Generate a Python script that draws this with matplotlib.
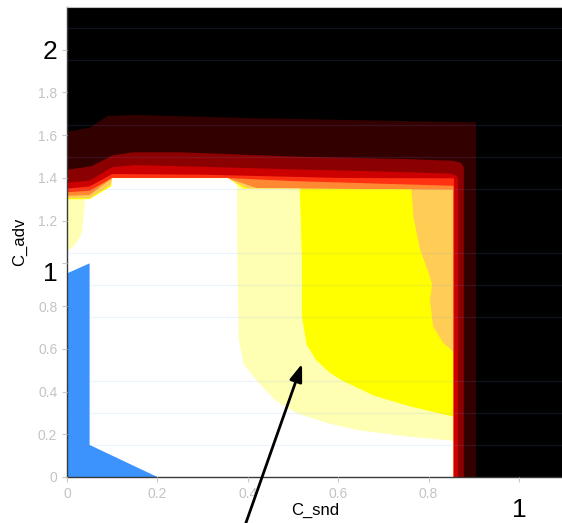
import matplotlib
matplotlib.use('Agg')
import matplotlib.pyplot as plt
import matplotlib.transforms as mtransforms
from matplotlib.ticker import FixedLocator, MultipleLocator

# ---------------- data ----------------
x_ticks = [0, 0.2, 0.4, 0.6, 0.8, 1.0]
x_tick_labels = ['0', '0.2', '0.4', '0.6', '0.8', '1']
y_ticks = [0, 0.2, 0.4, 0.6, 0.8, 1.0, 1.2, 1.4, 1.6, 1.8, 2.0]
y_tick_labels = ['0', '0.2', '0.4', '0.6', '0.8', '1', '1.2', '1.4', '1.6', '1.8', '2']
big_labels = ['1', '2']

# outer bands: top boundary (x, y) + right edge
band1_x = [0, 0.05, 0.09, 0.15, 0.4, 0.7, 0.905]
band1_y = [1.615, 1.635, 1.69, 1.695, 1.68, 1.668, 1.66]
band2_x = [0, 0.055, 0.1, 0.146, 0.25, 0.5, 0.75, 0.855, 0.872, 0.878]
band2_y = [1.438, 1.455, 1.505, 1.52, 1.52, 1.5, 1.488, 1.48, 1.47, 1.45]
band3_x = [0, 0.05, 0.1, 0.15, 0.3, 0.5, 0.7, 0.85, 0.862, 0.865]
band3_y = [1.378, 1.387, 1.45, 1.46, 1.452, 1.44, 1.43, 1.42, 1.41, 1.395]
band4_x = [0, 0.05, 0.1, 0.3, 0.6, 0.856]
band4_y = [1.35, 1.36, 1.418, 1.415, 1.40, 1.398]
band5_x = [0, 0.05, 0.1, 0.35, 0.5, 0.855]
band5_y = [1.333, 1.34, 1.40, 1.40, 1.385, 1.363]
band6_x = [0, 0.05, 0.1, 0.355, 0.42, 0.854]
band6_y = [1.316, 1.32, 1.399, 1.399, 1.352, 1.345]

# inner regions (closed outlines)
yellow_x = [0, 0, 0.05, 0.098, 0.1, 0.355, 0.40, 0.762, 0.766, 0.781, 0.80,
            0.808, 0.803, 0.81, 0.832, 0.854, 0.854]
yellow_y = [0, 1.305, 1.305, 1.37, 1.398, 1.398, 1.35, 1.347, 1.222, 1.066,
            0.956, 0.90, 0.831, 0.706, 0.628, 0.588, 0]
lightyellow_x = [0, 0, 0.05, 0.098, 0.1, 0.356, 0.39, 0.515, 0.52, 0.52, 0.53,
                 0.55, 0.58, 0.61, 0.68, 0.76, 0.854, 0.854]
lightyellow_y = [0, 1.30, 1.30, 1.36, 1.398, 1.398, 1.35, 1.35, 1.0, 0.75,
                 0.62, 0.55, 0.49, 0.45, 0.38, 0.33, 0.283, 0]
white_x = [0, 0, 0.015, 0.028, 0.033, 0.038, 0.04, 0.05, 0.098, 0.1, 0.356,
           0.376, 0.377, 0.38, 0.39, 0.42, 0.46, 0.507, 0.58, 0.642, 0.75,
           0.854, 0.854]
white_y = [0, 1.056, 1.08, 1.12, 1.145, 1.25, 1.30, 1.30, 1.36, 1.398, 1.398,
           1.37, 1.0, 0.65, 0.53, 0.45, 0.36, 0.30, 0.25, 0.22, 0.19, 0.17, 0]
blue_x = [0, 0, 0.05, 0.05, 0.2]
blue_y = [0, 0.953, 1.0, 0.15, 0]

arrow_tip = (0.52, 0.53)
arrow_tail = (0.365, -0.40)

band_colors = ['#330000', '#8b0000', '#cc0000', '#ff3311', '#ff8833', '#ffcc55']
band_right = [0.905, 0.878, 0.865, 0.856, 0.855, 0.854]

# ---------------- figure ----------------
fig = plt.figure(figsize=(5.62, 5.23), dpi=100)
ax = fig.add_axes([67 / 562, 46 / 523, 497.2 / 562, 470 / 523])
ax.set_facecolor('black')
ax.set_xlim(0, 1.1)
ax.set_ylim(0, 2.2)

bands = [(band1_x, band1_y), (band2_x, band2_y), (band3_x, band3_y),
         (band4_x, band4_y), (band5_x, band5_y), (band6_x, band6_y)]
for (bx, by), col, r in zip(bands, band_colors, band_right):
    xs = list(bx) + [r, 0]
    ys = list(by) + [0, 0]
    ax.fill(xs, ys, color=col, lw=0, zorder=1)

ax.fill(yellow_x, yellow_y, color='#ffff00', lw=0, zorder=1)
ax.fill(lightyellow_x, lightyellow_y, color='#ffffb4', lw=0, zorder=1)
ax.fill(white_x, white_y, color='#ffffff', lw=0, zorder=1)
ax.fill(blue_x, blue_y, color='#3b93fb', lw=0, zorder=1)

# faint horizontal grid
ax.yaxis.set_minor_locator(MultipleLocator(0.15))
ax.set_axisbelow(False)
ax.grid(which='minor', axis='y', color=(0.45, 0.6, 1.0), alpha=0.12, lw=0.9)
ax.tick_params(which='minor', length=0)

ax.xaxis.set_major_locator(FixedLocator(x_ticks))
ax.yaxis.set_major_locator(FixedLocator(y_ticks))
ax.set_xticklabels(x_tick_labels)
ax.set_yticklabels(y_tick_labels)
ax.tick_params(which='major', direction='out', length=3.5, width=0.8,
               color='#c8c8c8', labelcolor='#c4c4c4', labelsize=10, pad=3.5)

down_x = mtransforms.ScaledTranslation(0, -0.115, fig.dpi_scale_trans)
down_y = mtransforms.ScaledTranslation(0, -0.08, fig.dpi_scale_trans)
for lab in ax.get_xticklabels():
    lab.set_fontfamily('Liberation Sans')
    if lab.get_text() in big_labels:
        lab.set_fontsize(19)
        lab.set_color('black')
        lab.set_transform(lab.get_transform() + down_x)
for lab in ax.get_yticklabels():
    lab.set_fontfamily('Liberation Sans')
    if lab.get_text() in big_labels:
        lab.set_fontsize(19)
        lab.set_color('black')
        if lab.get_text() == '1':
            lab.set_transform(lab.get_transform() + down_y)

for side in ['left', 'bottom']:
    ax.spines[side].set_color('#3a3a3a')
    ax.spines[side].set_linewidth(1.0)
ax.spines['top'].set_color('#c0c0c0')
ax.spines['right'].set_visible(False)

ax.set_xlabel('C_snd', fontsize=12, family='Liberation Sans')
ax.xaxis.set_label_coords(0.5, -0.055)
ax.set_ylabel('C_adv', fontsize=12, family='Liberation Sans', labelpad=8)

ax.annotate('', xy=arrow_tip, xytext=arrow_tail,
            arrowprops=dict(arrowstyle='-|>,head_length=0.7,head_width=0.25',
                            color='black', lw=2, mutation_scale=15,
                            shrinkA=0, shrinkB=0),
            annotation_clip=False, zorder=5)

fig.savefig('out.png', dpi=100)
